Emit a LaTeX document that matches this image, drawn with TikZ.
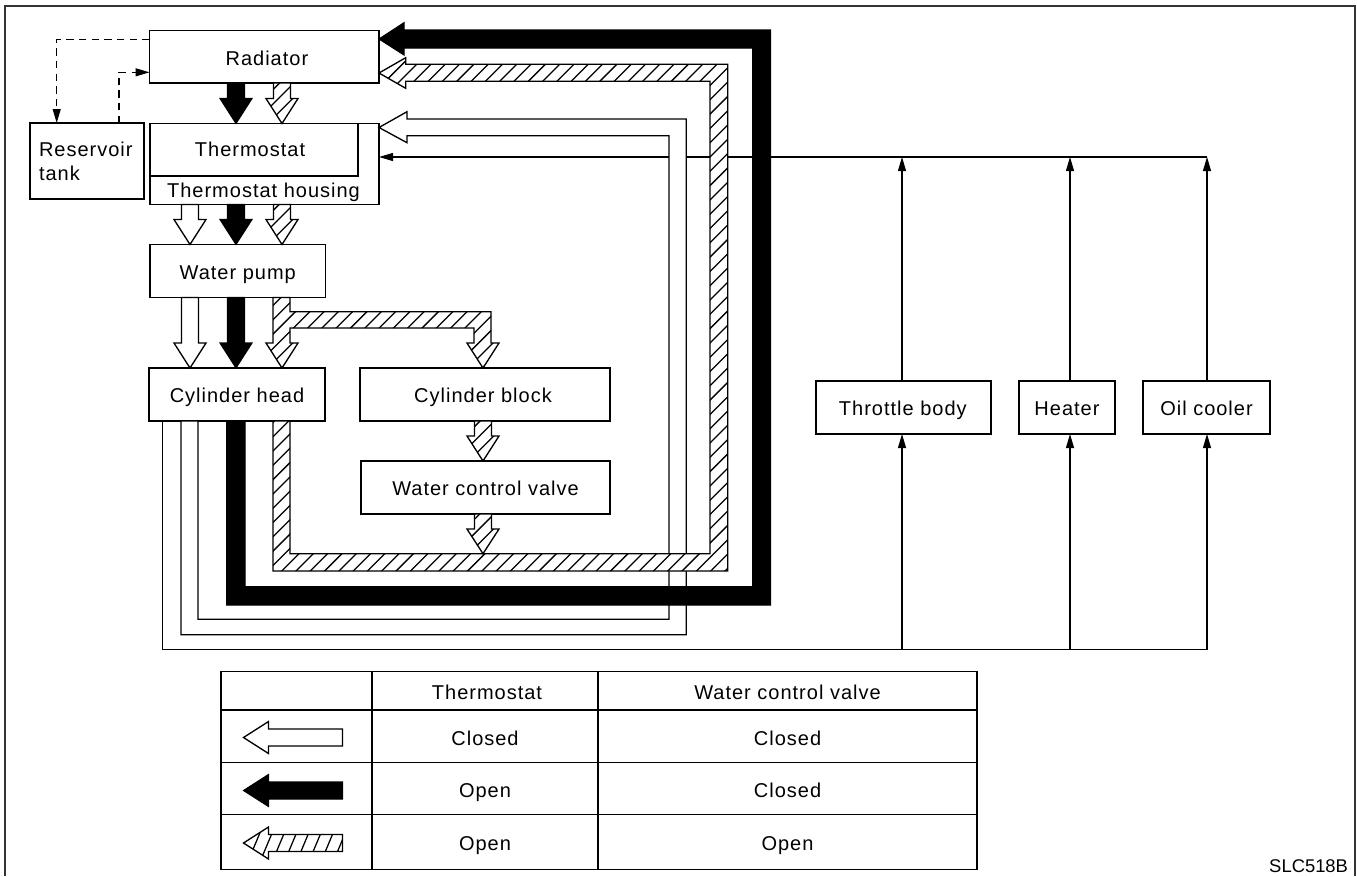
\documentclass[tikz,border=0pt]{standalone}
\usepackage{fontspec}
\setmainfont[LetterSpace=5]{Liberation Sans}
\newfontfamily\codefont{Liberation Sans}
\usetikzlibrary{arrows.meta,calc}
\tikzset{
  boxnode/.style={draw,line width=1pt,inner sep=0pt,outer sep=0pt,font=\fontsize{15}{18}\selectfont,text height=13pt,text depth=0pt},
  plaintext/.style={inner sep=0pt,outer sep=0pt,font=\fontsize{15}{18}\selectfont,text height=13pt,text depth=0pt},
  thinline/.style={line width=0.8pt,-{Triangle[length=10.5pt,width=6pt]}},
  thinplain/.style={line width=0.8pt},
  dashline/.style={line width=0.9pt,dash pattern=on 5.5pt off 4pt,-{Triangle[length=10.5pt,width=6pt]}},
  whitepipe/.style={draw=black,fill=white,line width=1pt,line join=miter},
  blackpipe/.style={draw=black,fill=black,line width=0.8pt,line join=miter},
  hatchedge/.style={draw=black,line width=1pt,line join=miter},
  hatchstroke/.style={line width=0.95pt},
}
% box given by its corners, in reference pixels
\newcommand{\bx}[7][]{\node[boxnode,minimum width={(#5-#3)*0.75pt},minimum height={(#6-#4)*0.75pt},#1] (#2) at ({(#3+#5)/2},{(#4+#6)/2}) {#7};}
% hatched shape: #1 path, #2 anchor point, #3 spacing, #4 run per unit rise
\newcommand{\hatchfill}[4]{%
  \begin{scope}
    \clip #1;
    \fill[white] #1;
    \foreach \k in {-72,...,72}
      \draw[hatchstroke] ($(#2)+({\k*#3+#4*1000},-1000)$) -- ($(#2)+({\k*#3-#4*1000},1000)$);
  \end{scope}
  \path[hatchedge] #1;
}
\newcommand{\setends}[3]{\coordinate (s) at (#1,0 |- #2.south); \coordinate (t) at (#1,0 |- #3.north);}
\newcommand{\dpath}{($(s)+(-8.5,0)$) -- ($(t)+(-8.5,-25)$) -- ($(t)+(-16,-25)$) -- (t) -- ($(t)+(16,-25)$) -- ($(t)+(8.5,-25)$) -- ($(s)+(8.5,0)$) -- cycle}
\newcommand{\fatwhite}[3]{\setends{#1}{#2}{#3}\path[whitepipe] \dpath;}
\newcommand{\fatblack}[3]{\setends{#1}{#2}{#3}\path[blackpipe] \dpath;}
\newcommand{\fathatch}[3]{\setends{#1}{#2}{#3}\hatchfill{\dpath}{t}{14.3}{1}}
\begin{document}
\begin{tikzpicture}[x=0.75pt,y=-0.75pt]
\useasboundingbox (0,0) rectangle (1357,876);
\draw[line width=1pt,draw=black!80] (5,876) -- (5,6) -- (1355,6) -- (1355,876);

% boxes
\bx{rad}{149.5}{30.5}{379}{83}{\hspace*{4pt}Radiator}
\node[boxnode,text height=,text depth=,minimum height=57pt,inner xsep=6.75pt,text width=72pt,align=left] (res) at (87,161) {\fontsize{15}{18.75}\selectfont Reservoir\\tank};
\bx{hous}{150}{123.5}{379}{204.5}{}
\bx[text height=10pt]{therm}{150}{123.5}{358}{176}{Thermostat\hspace*{6pt}}
\node[plaintext] (houstext) at (263.5,188.5) {Thermostat housing};
\bx{pump}{150}{244.5}{325.5}{297.5}{Water pump}
\bx[text height=12pt]{chead}{149}{368}{325}{421}{Cylinder head}
\bx[text height=12pt]{cblock}{360}{368}{610}{421}{Cylinder block\hspace*{3pt}}
\bx[text height=12pt]{wcv}{361}{461}{610}{514}{Water control valve}
\bx[text height=12pt]{tb}{816}{381}{991}{434}{Throttle body\hspace*{1pt}}
\bx[text height=12pt]{heat}{1019}{381}{1115}{434}{Heater}
\bx[text height=12pt]{oil}{1143}{381}{1270}{434}{Oil cooler}

% thin circuit, lowest layer
\coordinate (topright) at (1207,157);
\coordinate (botright) at (1207,649.5);
\draw[thinplain] (162.5,0 |- chead.south) -- (162.5,649.5) -- (botright);
\draw[thinline] (topright) -- (hous.east |- topright);
\draw[thinline] (tb.north -| 902,0) -- (902,157);
\draw[thinline] (heat.north -| 1070,0) -- (1070,157);
\draw[thinline] (oil.north -| 1207,0) -- (topright);
\draw[thinline] (902,649.5) -- (tb.south -| 902,0);
\draw[thinline] (1070,649.5) -- (heat.south -| 1070,0);
\draw[thinline] (botright) -- (oil.south -| 1207,0);

% dashed reservoir circuit
\draw[dashline] (rad.west |- 0,39.7) -- (56.7,39.7) -- (56.7,0 |- res.north);
\draw[dashline] (119,0 |- res.north) -- (119,72.3) -- (rad.west |- 0,72.3);

% return pipes
\path[whitepipe] (181,0 |- chead.south) -- (181,634.7) -- (686.3,634.7) -- (686.3,119) -- (407,119) -- (407,111.7) -- (hous.east |- 0,127.5) -- (407,142.7) -- (407,135.7) -- (669,135.7) -- (669,619.3) -- (198,619.3) -- (198,0 |- chead.south) -- cycle;
\coordinate (retanchor) at (296,571);
\hatchfill{(273,0 |- chead.south) -- (273,571) -- (727.7,571) -- (727.7,64.3) -- (405.7,64.3) -- (405.7,57.7) -- (rad.east |- 0,73) -- (405.7,88.3) -- (405.7,81.3) -- (710,81.3) -- (710,553.7) -- (290,553.7) -- (290,0 |- chead.south) -- cycle}{retanchor}{14.3}{1}
\path[blackpipe] (226.7,0 |- chead.south) -- (226.7,605) -- (770.7,605) -- (770.7,30) -- (404,30) -- (404,22.7) -- (rad.east |- 0,39) -- (404,55) -- (404,48) -- (752.7,48) -- (752.7,586.7) -- (245,586.7) -- (245,0 |- chead.south) -- cycle;

% fat arrows between boxes
\fatblack{236}{rad}{hous}
\fathatch{282}{rad}{hous}
\fatwhite{190}{hous}{pump}
\fatblack{236}{hous}{pump}
\fathatch{282}{hous}{pump}
\fatwhite{190}{pump}{chead}
\fatblack{236}{pump}{chead}
\coordinate (brtip) at (282,368);
\hatchfill{(273,0 |- pump.south) -- (273,343) -- (266,343) -- (282,0 |- chead.north) -- (298,343) -- (290,343) -- (290,328) -- (474,328) -- (474,343) -- (467,343) -- (483,0 |- cblock.north) -- (499,343) -- (491,343) -- (491,311.7) -- (290,311.7) -- (290,0 |- pump.south) -- cycle}{brtip}{14.3}{1}
\fathatch{483}{cblock}{wcv}
\coordinate (wcvtip) at (483,553.7);
\hatchfill{(474.5,0 |- wcv.south) -- (474.5,529) -- (467,529) -- (wcvtip) -- (499,529) -- (491.5,529) -- (491.5,0 |- wcv.south) -- cycle}{wcvtip}{14.3}{1}

% table
\bx{c00}{221}{671.5}{372}{710}{}
\bx{c01}{372}{671.5}{598}{710}{\hspace*{3pt}Thermostat}
\bx{c02}{598}{671.5}{977}{710}{Water control valve}
\bx{c10}{221}{710}{372}{762.5}{}
\bx[text height=14pt]{c11}{372}{710}{598}{762.5}{Closed}
\bx[text height=14pt]{c12}{598}{710}{977}{762.5}{Closed}
\bx{c20}{221}{762.5}{372}{814.5}{}
\bx{c21}{372}{762.5}{598}{814.5}{Open}
\bx{c22}{598}{762.5}{977}{814.5}{Closed}
\bx{c30}{221}{814.5}{372}{869.5}{}
\bx[text height=12pt]{c31}{372}{814.5}{598}{869.5}{Open}
\bx[text height=12pt]{c32}{598}{814.5}{977}{869.5}{Open}

% legend arrows
\path[whitepipe] (243.5,737.5) -- (268.5,721.5) -- (268.5,729) -- (342.5,729) -- (342.5,746) -- (268.5,746) -- (268.5,753.5) -- cycle;
\path[blackpipe] (243.5,790.5) -- (268.5,774.5) -- (268.5,782) -- (342.5,782) -- (342.5,799) -- (268.5,799) -- (268.5,806.5) -- cycle;
\coordinate (legtip) at (243.5,843);
\hatchfill{(legtip) -- (268.5,827) -- (268.5,834.5) -- (342.5,834.5) -- (342.5,851.5) -- (268.5,851.5) -- (268.5,859) -- cycle}{legtip}{12.2}{0.42}

\node[inner sep=0pt,outer sep=0pt,anchor=base east,font=\codefont\fontsize{13.8}{16}\selectfont] (code) at (1348,872) {SLC518B};
\end{tikzpicture}
\end{document}
